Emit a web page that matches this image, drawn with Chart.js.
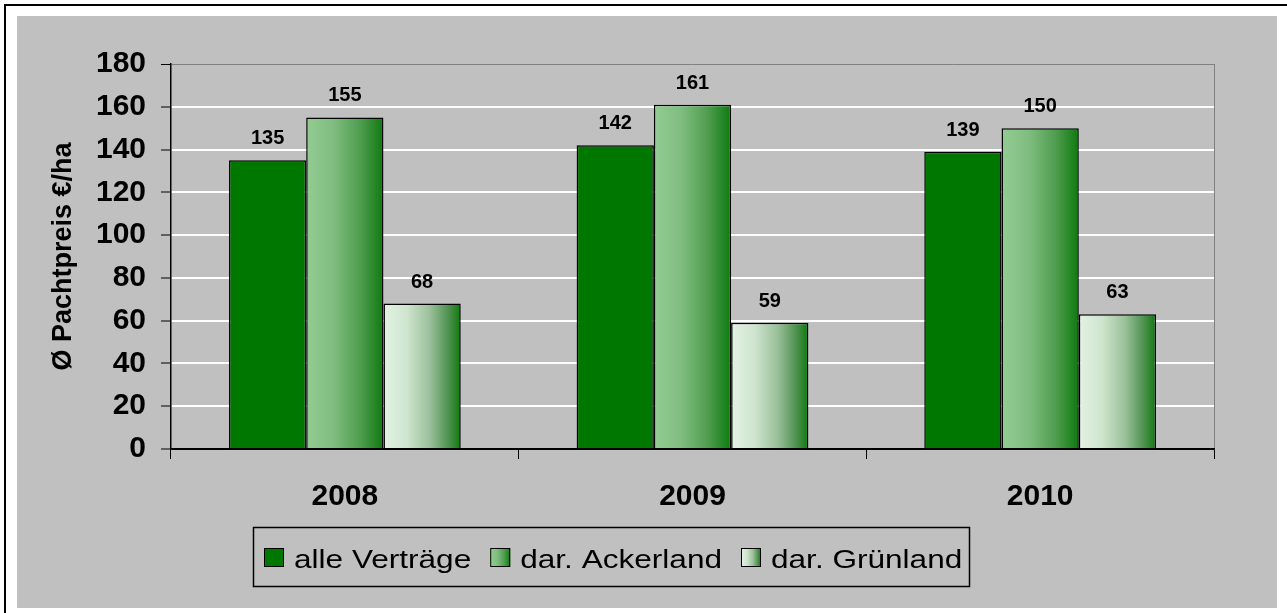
<!DOCTYPE html>
<html>
<head>
<meta charset="utf-8">
<script src="https://cdn.jsdelivr.net/npm/chart.js@4"></script>
<style>
  html, body { margin: 0; padding: 0; background: #fff; }
  #wrap { width: 1287px; height: 613px; }
</style>
</head>
<body>
<div id="wrap"><canvas id="chart" width="1287" height="613"></canvas></div>
<script>
// ------------------------------------------------------------
// Daten
// ------------------------------------------------------------
const years = ["2008", "2009", "2010"];
const alleVertraege = [135, 142, 139];
const ackerland = [155, 161, 150];
const gruenland = [68, 59, 63];
const seriesNames = ["alle Verträge", "dar. Ackerland", "dar. Grünland"];
const yMin = 0, yMax = 180, yStep = 20;

// Farben
const FONT = "Arial, 'Liberation Sans', sans-serif";
const solidGreen = "#007800";
const ackerStops = [[0, "#93CC93"], [0.35, "#80BD80"], [0.7, "#4F9D4F"], [1, "#0E7A0E"]];
const gruenStops = [[0, "#E3F2E3"], [0.3, "#CFE5CF"], [0.6, "#9AC09A"], [0.85, "#4C904C"], [1, "#0E7A0E"]];
const CAT_PCT = 2 / 3;

Chart.defaults.font.family = FONT;

function makeGradient(ctx, x0, w, stops) {
  const g = ctx.createLinearGradient(x0, 0, x0 + w, 0);
  stops.forEach(([o, c]) => g.addColorStop(o, c));
  return g;
}

// Verlauf pro Balken (links hell -> rechts dunkel)
function barFill(stops) {
  return c => {
    const chart = c.chart;
    const x = chart.scales && chart.scales.x;
    if (!x || c.dataIndex === undefined) return stops[0][1];
    const slot = x.width / years.length * CAT_PCT / 3;
    const left = x.getPixelForValue(c.dataIndex) - 1.5 * slot + c.datasetIndex * slot;
    if (!isFinite(slot) || !isFinite(left) || slot <= 0) return stops[0][1];
    return makeGradient(chart.ctx, left, slot, stops);
  };
}

// Hintergrund: weiss, Rahmenlinien, graue Flaeche
const background = {
  id: "background",
  beforeDraw(chart) {
    const ctx = chart.ctx;
    ctx.save();
    ctx.fillStyle = "#fff";
    ctx.fillRect(0, 0, chart.width, chart.height);
    ctx.fillStyle = "#000";
    ctx.fillRect(4, 4, chart.width - 4, 2);
    ctx.fillRect(4, 4, 2, chart.height - 4);
    ctx.fillStyle = "#C0C0C0";
    ctx.fillRect(17, 16, 1260, 592);
    ctx.restore();
  }
};

// Werte ueber den Balken
const valueLabels = {
  id: "valueLabels",
  afterDatasetsDraw(chart) {
    const ctx = chart.ctx;
    ctx.save();
    ctx.font = "bold 20px " + FONT;
    ctx.fillStyle = "#000";
    ctx.textAlign = "center";
    ctx.textBaseline = "alphabetic";
    chart.data.datasets.forEach((ds, i) => {
      chart.getDatasetMeta(i).data.forEach((bar, j) => {
        ctx.fillText(String(ds.data[j]), bar.x, bar.y - 16);
      });
    });
    ctx.restore();
  }
};

// Legende mit Rahmen (Text leicht gestreckt wie im Original)
const boxLegend = {
  id: "boxLegend",
  afterDraw(chart) {
    const ctx = chart.ctx;
    const stretch = 1.214;
    ctx.save();
    ctx.strokeStyle = "#000";
    ctx.lineWidth = 1.5;
    ctx.strokeRect(253.5, 527.5, 716, 59);
    ctx.font = "26px " + FONT;
    ctx.textBaseline = "alphabetic";
    let x = 264;
    chart.data.datasets.forEach((ds, i) => {
      const fills = [solidGreen, ackerStops, gruenStops][i];
      ctx.fillStyle = typeof fills === "string" ? fills : makeGradient(ctx, x, 20, fills);
      ctx.fillRect(x, 548, 20, 19);
      ctx.lineWidth = 1;
      ctx.strokeRect(x + 0.5, 548.5, 19, 18);
      const tx = x + 30;
      const w = ctx.measureText(ds.label).width * stretch;
      ctx.save();
      ctx.translate(tx, 567.5);
      ctx.scale(stretch, 1);
      ctx.fillStyle = "#000";
      ctx.fillText(ds.label, 0, 0);
      ctx.restore();
      x = tx + w + 19;
    });
    ctx.restore();
  }
};

new Chart(document.getElementById("chart"), {
  type: "bar",
  data: {
    labels: years,
    datasets: [
      { label: seriesNames[0], data: alleVertraege, backgroundColor: solidGreen },
      { label: seriesNames[1], data: ackerland, backgroundColor: barFill(ackerStops) },
      { label: seriesNames[2], data: gruenland, backgroundColor: barFill(gruenStops) },
    ].map(d => ({ ...d, borderColor: "#000", borderWidth: 1.5, categoryPercentage: CAT_PCT, barPercentage: 1 })),
  },
  options: {
    responsive: false,
    animation: false,
    devicePixelRatio: 1,
    layout: { padding: { left: 0, top: 64, right: 73, bottom: 0 } },
    plugins: {
      legend: { display: false },
      tooltip: { enabled: false },
    },
    scales: {
      x: {
        grid: {
          offset: true,
          color: c => (c.tick ? "rgba(0,0,0,0)" : "#808080"),
          lineWidth: 1,
          tickColor: "#000",
          tickLength: 10,
          tickWidth: 1,
        },
        border: { color: "#000", width: 1.5 },
        ticks: { color: "#000", font: { size: 30, weight: "bold" }, padding: 20 },
        afterFit: s => { s.height = 164; },
      },
      y: {
        min: yMin,
        max: yMax,
        ticks: { stepSize: yStep, color: "#000", font: { size: 30, weight: "bold" }, padding: 15 },
        grid: {
          color: c => (c.tick && c.tick.value === yMax ? "#808080" : c.tick && c.tick.value === yMin ? "#000" : "#fff"),
          lineWidth: c => (c.tick && c.tick.value === yMax ? 1 : 2),
          tickColor: "#000",
          tickLength: 10,
          tickWidth: 1,
        },
        border: { color: "#000", width: 1.5 },
        title: {
          display: true,
          text: "Ø Pachtpreis €/ha",
          color: "#000",
          font: { size: 27, weight: "bold" },
          padding: { top: 47, bottom: 0 },
        },
        afterFit: s => { s.width = 171; },
      },
    },
  },
  plugins: [background, valueLabels, boxLegend],
});
</script>
</body>
</html>
